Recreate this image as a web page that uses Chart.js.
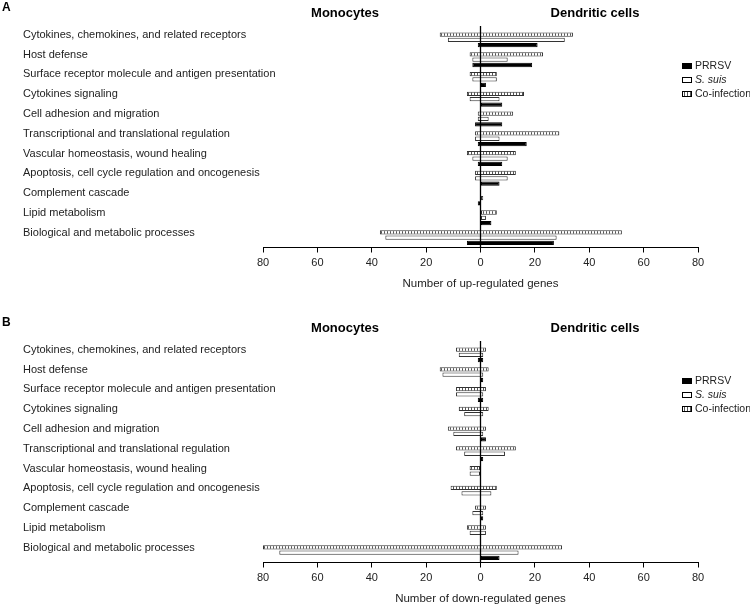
<!DOCTYPE html>
<html>
<head>
<meta charset="utf-8">
<script src="https://cdn.jsdelivr.net/npm/chart.js@4.4.1/dist/chart.umd.min.js"></script>
<style>
  body { margin: 0; background: #fff; }
  #wrap { position: relative; width: 750px; height: 613px; }
  canvas { position: absolute; left: 0; }
  #up { top: 0; }
  #down { top: 315px; }
</style>
</head>
<body>
<div id="wrap">
  <canvas id="up" width="750" height="298"></canvas>
  <canvas id="down" width="750" height="298"></canvas>
</div>
<script>
const categories = [
  "Cytokines, chemokines, and related receptors",
  "Host defense",
  "Surface receptor molecule and antigen presentation",
  "Cytokines signaling",
  "Cell adhesion and migration",
  "Transcriptional and translational regulation",
  "Vascular homeostasis, wound healing",
  "Apoptosis, cell cycle regulation and oncogenesis",
  "Complement cascade",
  "Lipid metabolism",
  "Biological and metabolic processes",
];
const xTicks = [-80, -60, -40, -20, 0, 20, 40, 60, 80];

// up-regulated genes (A): monocytes go left, dendritic cells go right
const upPrrsvMono = [1, 3, 0, 0, 2, 1, 1, 0, 1, 0, 5];
const upPrrsvDC = [21, 19, 2, 8, 8, 17, 8, 7, 0, 4, 27];
const upSsuisMono = [12, 3, 3, 4, 1, 2, 3, 2, 0, 0, 35];
const upSsuisDC = [31, 10, 6, 7, 3, 7, 10, 10, 1, 2, 28];
const upCoinfMono = [15, 4, 4, 5, 1, 2, 5, 2, 0, 0, 37];
const upCoinfDC = [34, 23, 6, 16, 12, 29, 13, 13, 0, 6, 52];

// down-regulated genes (B)
const downPrrsvMono = [1, 0, 1, 0, 0, 0, 0, 0, 0, 0, 0];
const downPrrsvDC = [1, 1, 1, 0, 2, 1, 0, 0, 1, 0, 7];
const downSsuisMono = [8, 14, 9, 6, 10, 6, 4, 7, 3, 4, 74];
const downSsuisDC = [1, 1, 1, 1, 1, 9, 0, 4, 1, 2, 14];
const downCoinfMono = [9, 15, 9, 8, 12, 9, 4, 11, 2, 5, 80];
const downCoinfDC = [2, 3, 2, 3, 2, 13, 0, 6, 2, 2, 30];

function span(mono, dc) {
  return mono.map((m, i) => (m === 0 && dc[i] === 0 ? null : [-m, dc[i]]));
}

function hatch() {
  const c = document.createElement("canvas");
  c.width = 3;
  c.height = 4;
  const g = c.getContext("2d");
  g.fillStyle = "#fff";
  g.fillRect(0, 0, 3, 4);
  g.fillStyle = "#555";
  g.fillRect(0, 0, 1, 4);
  return g.createPattern(c, "repeat");
}
const stripes = hatch();

// long category names run past the label box, so don't clip them
Chart.CategoryScale.prototype._computeLabelArea = function () { return null; };

// titles, legend and the zero line
const decor = {
  id: "decor",
  afterDatasetsDraw(chart, args, opts) {
    const ctx = chart.ctx;
    const area = chart.chartArea;
    const x0 = chart.scales.x.getPixelForValue(0);
    ctx.save();
    ctx.strokeStyle = "#000";
    ctx.lineWidth = 1.3;
    ctx.beginPath();
    ctx.moveTo(x0, area.top - 4);
    ctx.lineTo(x0, area.bottom);
    ctx.stroke();

    ctx.fillStyle = "#000";
    ctx.textBaseline = "middle";
    ctx.textAlign = "left";
    ctx.font = "bold 12px 'Liberation Sans', Arial, sans-serif";
    ctx.fillText(opts.letter, 2, 8);
    ctx.textAlign = "center";
    ctx.font = "bold 13px 'Liberation Sans', Arial, sans-serif";
    ctx.fillText("Monocytes", 345, 13);
    ctx.fillText("Dendritic cells", 595, 13);

    const items = [
      ["PRRSV", "#000", ""],
      ["S. suis", "#fff", "italic "],
      ["Co-infection", stripes, ""],
    ];
    items.forEach((it, i) => {
      const y = 66 + i * 14;
      ctx.fillStyle = it[1];
      ctx.fillRect(682, y - 3, 10, 6);
      ctx.strokeStyle = "#000";
      ctx.lineWidth = 1;
      ctx.strokeRect(682.5, y - 2.5, 9, 5);
      ctx.fillStyle = "#222";
      ctx.textAlign = "left";
      ctx.font = it[2] + "10.5px 'Liberation Sans', Arial, sans-serif";
      ctx.fillText(it[0], 695, y);
    });
    ctx.restore();
  },
};

Chart.defaults.font.family = "'Liberation Sans', Arial, sans-serif";

function makeChart(id, letter, axisTitle, prrsv, ssuis, coinf) {
  const bar = { borderWidth: 1, borderSkipped: false, categoryPercentage: 0.81, barPercentage: 0.8 };
  new Chart(document.getElementById(id), {
    type: "bar",
    data: {
      labels: categories,
      datasets: [
        Object.assign({ label: "Co-infection", data: coinf, backgroundColor: stripes, borderColor: "#333" }, bar),
        Object.assign({ label: "S. suis", data: ssuis, backgroundColor: "#fff", borderColor: "#333" }, bar),
        Object.assign({ label: "PRRSV", data: prrsv, backgroundColor: "#000", borderColor: "#000" }, bar),
      ],
    },
    options: {
      indexAxis: "y",
      responsive: false,
      animation: false,
      layout: { padding: { left: 23, right: 52, top: 30, bottom: 5.5 } },
      plugins: {
        legend: { display: false },
        tooltip: { enabled: false },
        decor: { letter: letter },
      },
      scales: {
        x: {
          min: -80,
          max: 80,
          afterBuildTicks: (s) => { s.ticks = xTicks.map((v) => ({ value: v })); },
          ticks: { callback: (v) => Math.abs(v), color: "#222", font: { size: 11 }, padding: 4, maxRotation: 0 },
          grid: { color: "rgba(0,0,0,0)", tickColor: "#000", tickLength: 5 },
          border: { display: true, color: "#000", width: 1 },
          title: { display: true, text: axisTitle, color: "#222", font: { size: 11.5 }, padding: { top: 6, bottom: 2 } },
          afterFit: (s) => { s.height = 45; },
        },
        y: {
          grid: { display: false },
          border: { display: false },
          ticks: { crossAlign: "far", color: "#222", font: { size: 11 }, labelOffset: -5, padding: 0, autoSkip: false },
          afterFit: (s) => { s.width = 240; },
        },
      },
    },
    plugins: [decor],
  });
}

makeChart("up", "A", "Number of up-regulated genes",
  span(upPrrsvMono, upPrrsvDC), span(upSsuisMono, upSsuisDC), span(upCoinfMono, upCoinfDC));
makeChart("down", "B", "Number of down-regulated genes",
  span(downPrrsvMono, downPrrsvDC), span(downSsuisMono, downSsuisDC), span(downCoinfMono, downCoinfDC));
</script>
</body>
</html>
